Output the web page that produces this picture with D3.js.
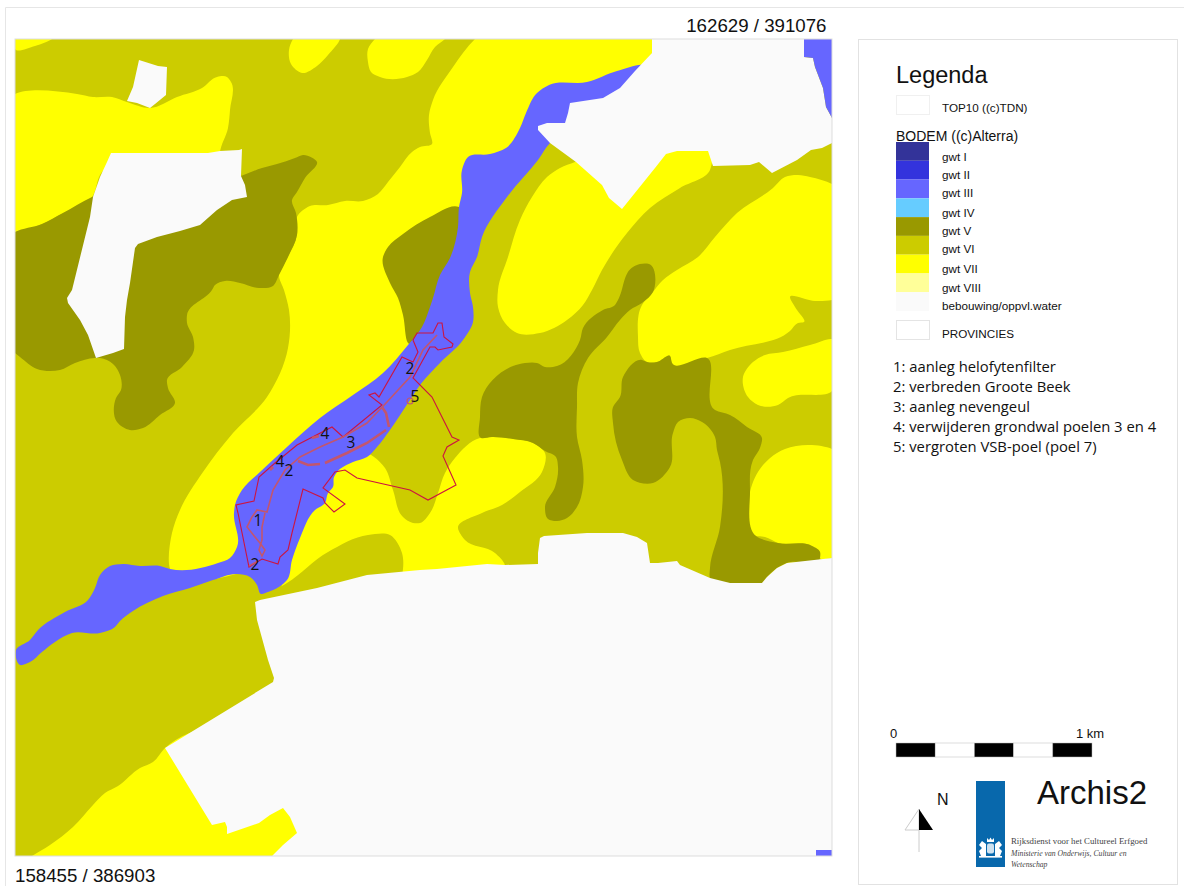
<!DOCTYPE html>
<html>
<head>
<meta charset="utf-8">
<script src="https://cdn.jsdelivr.net/npm/d3@7"></script>
<style>
body { margin: 0; background: #fff; }
svg { display: block; }
text { font-family: "Liberation Sans", Arial, sans-serif; fill: #111; }
</style>
</head>
<body>
<svg width="1184" height="886"></svg>
<script>
// map polygons, digitised in sheet units: origin at the SW corner, 817 units to a side
var sheetSize = 817;
var cornerNE = "162629 / 391076";
var cornerSW = "158455 / 386903";

var yellowAreas = [
  [[0,817],[37,817],[20,810],[0,807]],
  [[0,762],[62,762],[78,759],[97,759],[112,754],[135,748],[162,759],[187,768],[202,779],[212,779],[216,774],[215,746],[213,728],[205,703],[205,696],[85,681],[77,659],[48,643],[27,632],[0,624]],
  [[278,817],[274,806],[276,792],[287,783],[302,790],[313,801],[325,817]],
  [[360,817],[353,807],[353,794],[356,784],[365,779],[392,779],[403,784],[412,796],[420,809],[430,817]],
  [[460,817],[637,817],[637,803],[622,786],[545,746],[485,676],[455,606],[405,496],[305,406],[255,296],[155,287],[157,323],[165,346],[188,384],[218,423],[252,459],[273,508],[274,546],[269,566],[264,581],[273,599],[282,621],[282,639],[295,650],[313,651],[330,655],[348,655],[363,662],[373,674],[385,689],[397,704],[405,709],[417,712],[415,723],[414,741],[418,756],[438,789]],
  [[560,694],[545,688],[532,679],[517,659],[505,636],[493,599],[483,566],[483,549],[490,533],[502,523],[525,523],[552,536],[568,551],[577,566],[587,586],[612,623],[635,648],[665,668],[695,686],[697,706],[625,716]],
  [[817,672],[795,679],[783,681],[770,679],[758,668],[722,643],[700,619],[683,599],[662,586],[648,576],[637,563],[627,551],[623,519],[625,503],[632,494],[642,494],[655,500],[657,493],[692,498],[715,506],[775,525],[783,533],[789,534],[782,546],[775,559],[800,555],[817,556]],
  [[817,517],[795,511],[768,504],[750,501],[738,494],[728,479],[733,459],[743,451],[763,451],[773,458],[817,465]],
  [[817,407],[770,407],[762,403],[748,391],[735,364],[741,320],[750,319],[763,313],[797,310],[805,304],[805,298],[817,298]],
  [[150,108],[138,94],[125,88],[103,70],[90,63],[78,51],[58,29],[35,11],[17,0],[257,0],[320,40],[200,130]],
  [[305,366],[345,406],[370,388],[378,366],[388,339],[398,333],[405,333],[415,343],[423,363],[430,383],[440,398],[465,418],[477,419],[498,417],[518,413],[530,403],[527,384],[505,364],[487,351],[467,343],[443,328],[450,316],[480,303],[490,291],[490,276],[265,256],[270,286]]
];
var gwt6Areas = [
  [[240,256],[272,273],[313,304],[353,321],[375,321],[387,303],[387,281],[302,261]]
];
var gwt5Areas = [
  [[0,624],[27,632],[48,643],[77,659],[95,666],[226,680],[247,688],[262,692],[280,698],[288,701],[302,694],[290,678],[282,664],[277,656],[281,643],[282,621],[273,599],[264,581],[258,570],[244,568],[225,573],[210,575],[200,571],[197,566],[172,541],[172,533],[178,519],[179,506],[167,489],[152,476],[153,468],[160,453],[145,441],[128,428],[115,426],[102,434],[101,458],[106,466],[105,481],[98,492],[85,498],[80,498],[60,493],[45,486],[22,487],[5,499],[0,503]],
  [[444,649],[415,639],[388,622],[373,609],[368,599],[375,573],[383,558],[388,541],[393,513],[435,556],[450,646]],
  [[467,459],[498,490],[510,493],[522,493],[530,489],[542,490],[565,516],[568,528],[588,546],[600,551],[603,556],[618,589],[625,592],[634,592],[638,564],[627,553],[615,546],[605,536],[592,519],[573,498],[563,473],[562,449],[562,419],[567,396],[568,369],[562,349],[552,338],[542,335],[533,337],[530,349],[540,369],[543,389],[541,399],[530,405],[518,413],[498,417],[477,419],[466,418],[465,439]],
  [[627,496],[608,479],[605,459],[598,449],[598,433],[607,396],[618,376],[638,373],[655,389],[658,423],[663,434],[675,438],[687,434],[700,419],[702,406],[705,394],[705,329],[695,288],[695,278],[715,273],[747,273],[752,279],[762,288],[772,293],[805,298],[805,304],[797,310],[763,313],[741,320],[735,364],[738,396],[745,408],[747,418],[732,429],[715,441],[700,446],[692,498],[657,493],[655,500],[642,494],[632,494]]
];
var gwt3Areas = [
  [[630,790],[602,785],[572,774],[534,771],[522,763],[511,743],[505,728],[491,708],[475,702],[453,699],[447,686],[447,663],[444,649],[443,629],[435,598],[425,581],[418,558],[415,549],[407,529],[393,511],[368,483],[338,461],[305,438],[272,409],[245,384],[227,366],[220,351],[219,343],[222,309],[215,298],[203,293],[155,287],[145,290],[125,290],[108,292],[95,290],[85,281],[80,268],[73,256],[50,244],[23,226],[15,216],[1,206],[5,191],[15,194],[27,204],[40,214],[57,223],[85,223],[100,229],[105,235],[118,245],[148,260],[175,268],[198,276],[222,282],[235,279],[242,271],[246,262],[253,264],[268,272],[272,276],[277,296],[285,318],[300,346],[310,353],[313,363],[318,369],[319,379],[322,384],[338,394],[352,399],[362,409],[375,426],[393,453],[405,471],[425,493],[448,516],[458,534],[458,549],[455,563],[455,584],[462,599],[467,619],[492,659],[523,696],[535,713],[555,726],[625,766]]
];
var gwt3Corner = [[[789,817],[789,799],[798,798],[800,789],[808,768],[811,749],[817,738],[817,817]],[[801,6],[817,6],[817,0],[801,0]]];
var builtAreas = [
  [[124,796],[143,790],[152,789],[151,761],[140,752],[135,748],[122,753],[112,755],[118,769]],
  [[96,703],[193,703],[205,705],[224,706],[227,707],[226,680],[230,671],[232,659],[217,656],[202,646],[185,631],[165,625],[142,619],[123,612],[120,608],[115,573],[112,556],[110,539],[109,507],[98,503],[81,498],[73,521],[65,536],[53,553],[52,558],[57,566],[75,639],[78,659],[85,679],[92,694]],
  [[240,254],[245,256],[302,268],[352,281],[405,286],[422,287],[472,292],[490,291],[523,292],[523,303],[525,318],[529,320],[572,323],[608,323],[622,319],[632,313],[635,293],[643,293],[662,295],[665,291],[695,278],[715,273],[747,273],[752,279],[762,288],[772,293],[817,298],[817,0],[257,0],[268,11],[282,23],[275,39],[268,48],[255,41],[244,33],[212,22],[212,29],[210,34],[197,31],[150,108],[258,174],[259,178],[253,196],[242,236]],
  [[637,817],[789,817],[789,799],[798,798],[800,789],[808,768],[811,749],[817,738],[817,713],[807,708],[796,706],[782,696],[757,683],[744,694],[735,691],[698,690],[693,705],[662,705],[651,702],[640,688],[607,647],[594,658],[587,671],[561,694],[535,713],[523,726],[523,730],[532,733],[550,733],[553,743],[555,753],[588,758],[605,768],[620,785],[637,803]]
];

// red plan outline and the pink works lines inside it
var planOutline = [[423,533],[427,533],[429,519],[438,512],[437,509],[423,506],[420,509],[415,509],[398,478],[417,459],[437,419],[444,416],[432,409],[428,400],[441,371],[413,356],[395,366],[342,378],[330,386],[320,384],[308,368],[330,352],[319,344],[310,353],[308,358],[288,367],[277,323],[273,306],[265,299],[263,292],[247,297],[234,289],[223,343],[221,351],[239,355],[244,379],[260,393],[282,411],[317,429],[328,419],[367,451],[354,461],[360,463],[364,459],[387,499],[398,494],[403,504],[398,516],[402,523],[418,523]];
var worksThin = [
  [[422,521],[408,506],[395,479],[372,454],[352,433],[328,419],[305,409],[285,399],[270,386],[258,366],[252,344],[242,346],[237,339],[232,329],[240,319],[245,313],[250,306],[247,300],[244,306],[247,316],[247,329],[250,343]],
  [[234,290],[243,295]]
];
var worksThick = [
  [[367,449],[371,443],[374,429]],
  [[371,426],[352,413],[332,403],[310,393]],
  [[305,392],[293,391],[283,395]],
  [[297,418],[304,420]],
  [[255,386],[258,389]]
];
var pondCentre = [395,455];
var planLabels = ["1","2","5","3","4","4","2","2"];
var planLabelX = [243,395,400,336,310,265,274,240];
var planLabelY = [336,488,460,414,423,395,386,292];

// legend
var soilNames = ["gwt I","gwt II","gwt III","gwt IV","gwt V","gwt VI","gwt VII","gwt VIII","bebouwing/oppvl.water"];
var soilColors = ["#333399","#3333dd","#6666ff","#66ccff","#999900","#cccc00","#ffff00","#ffff99","#fafafa"];
var soilLabelY = [161,179,197,217,235,253,273,292,310];
var notes = ["1: aanleg helofytenfilter","2: verbreden Groote Beek","3: aanleg nevengeul","4: verwijderen grondwal poelen 3 en 4","5: vergroten VSB-poel (poel 7)"];
var barStops = [0,200,400,600,800];
var logoLines = ["Rijksdienst voor het Cultureel Erfgoed","Ministerie van Onderwijs, Cultuur en","Wetenschap"];

var svg = d3.select("svg");
var x = d3.scaleLinear().domain([0,sheetSize]).range([15,832]);
var y = d3.scaleLinear().domain([0,sheetSize]).range([856,39]);
var line = d3.line().x(function(d) { return x(d[0]); }).y(function(d) { return y(d[1]); });
var smooth = d3.line().x(function(d) { return x(d[0]); }).y(function(d) { return y(d[1]); })
  .curve(d3.curveCatmullRomClosed.alpha(1));

// page frames
svg.append("path").attr("d","M5.5,886V7.5H1184").attr("fill","none").attr("stroke","#e6e6e6");
svg.append("rect").attr("x",858.5).attr("y",39.5).attr("width",319).attr("height",845)
  .attr("fill","#fff").attr("stroke","#e2e2e2");

svg.append("clipPath").attr("id","sheet").append("rect")
  .attr("x",x(0)).attr("y",y(sheetSize)).attr("width",x(sheetSize)-x(0)).attr("height",y(0)-y(sheetSize));

// soil map, painted back to front
var map = svg.append("g").attr("clip-path","url(#sheet)");
map.append("rect").attr("x",x(0)).attr("y",y(sheetSize)).attr("width",x(sheetSize)-x(0)).attr("height",y(0)-y(sheetSize)).attr("fill",soilColors[5]);

function drawAreas(areas, color, shape) {
  map.append("g").selectAll("path").data(areas).enter().append("path")
    .attr("d", function(d) { return shape(d) + (shape==line ? "Z" : ""); })
    .attr("fill", color);
}
drawAreas(yellowAreas, soilColors[6], smooth);
drawAreas(gwt6Areas, soilColors[5], smooth);
drawAreas(gwt5Areas, soilColors[4], smooth);
drawAreas(gwt3Areas, soilColors[2], smooth);
drawAreas(builtAreas, soilColors[8], line);
drawAreas(gwt3Corner, soilColors[2], line);

// plan lines
map.append("path").attr("d",line(planOutline)+"Z").attr("fill","none").attr("stroke","#cc1440").attr("stroke-width",1.1);
map.append("g").selectAll("path").data(worksThin).enter().append("path")
  .attr("d",line).attr("fill","none").attr("stroke","#c2566e").attr("stroke-width",1.6);
map.append("g").selectAll("path").data(worksThick).enter().append("path")
  .attr("d",line).attr("fill","none").attr("stroke","#c2566e").attr("stroke-width",2.6);
map.append("circle").attr("cx",x(pondCentre[0])).attr("cy",y(pondCentre[1])).attr("r",3)
  .attr("fill","none").attr("stroke","#c2566e").attr("stroke-width",1.2);

map.append("g").selectAll("text").data(planLabels).enter().append("text")
  .attr("x",function(d,i) { return x(planLabelX[i]); })
  .attr("y",function(d,i) { return y(planLabelY[i]); })
  .attr("text-anchor","middle").attr("dy","0.36em")
  .style("font-family","'Open Sans'").style("font-size","15.5px")
  .text(function(d) { return d; });

svg.append("rect").attr("x",x(0)).attr("y",y(sheetSize)).attr("width",x(sheetSize)-x(0)).attr("height",y(0)-y(sheetSize))
  .attr("fill","none").attr("stroke","#dddddd").attr("stroke-width",1);

// corner coordinates
svg.append("text").attr("x",826.5).attr("y",32).attr("text-anchor","end").style("font-size","18.7px").text(cornerNE);
svg.append("text").attr("x",15).attr("y",882).style("font-size","18.7px").text(cornerSW);

// legend
svg.append("text").attr("x",896).attr("y",83).style("font-size","23.5px").text("Legenda");
svg.append("rect").attr("x",896.5).attr("y",95.5).attr("width",33).attr("height",19).attr("fill","#fff").attr("stroke","#f0f0f0");
svg.append("text").attr("x",942).attr("y",112).style("font-size","11.7px").text("TOP10 ((c)TDN)");
svg.append("text").attr("x",896).attr("y",141).style("font-size","14px").text("BODEM ((c)Alterra)");

var swatchY = d3.scaleBand().domain(soilNames).range([142,311]);
svg.append("g").selectAll("rect").data(soilNames).enter().append("rect")
  .attr("x",896).attr("y",function(d) { return swatchY(d); })
  .attr("width",33).attr("height",swatchY.bandwidth())
  .attr("fill",function(d,i) { return soilColors[i]; });
svg.append("g").selectAll("text").data(soilNames).enter().append("text")
  .attr("x",942).attr("y",function(d,i) { return soilLabelY[i]; })
  .style("font-size","11.7px").text(function(d) { return d; });

svg.append("rect").attr("x",896.5).attr("y",320.5).attr("width",33).attr("height",19).attr("fill","#fff").attr("stroke","#e4e4e4");
svg.append("text").attr("x",942).attr("y",338).style("font-size","11.7px").text("PROVINCIES");

svg.append("g").selectAll("text").data(notes).enter().append("text")
  .attr("x",893).attr("y",function(d,i) { return 372 + i*20; })
  .style("font-family","'Open Sans'").style("font-size","14.8px")
  .text(function(d) { return d; });

// scale bar
var bar = d3.scaleLinear().domain([0,1000]).range([896,1092]);
svg.append("g").selectAll("rect").data(barStops).enter().append("rect")
  .attr("x",function(d) { return bar(d); }).attr("y",743)
  .attr("width",bar(200)-bar(0)).attr("height",14)
  .attr("fill",function(d,i) { return i%2==0 ? "#000" : "#fff"; })
  .attr("stroke","#bbb").attr("stroke-width",0.5);
svg.append("text").attr("x",bar(0)-6).attr("y",738).style("font-size","13px").text("0");
svg.append("text").attr("x",1076).attr("y",738).style("font-size","13px").text("1 km");

// north arrow
svg.append("path").attr("d","M919,809L905,830H919M919,809V852").attr("fill","none").attr("stroke","#ccc");
svg.append("path").attr("d","M919,809L933,830H919Z").attr("fill","#000");
svg.append("text").attr("x",937).attr("y",805).style("font-size","16px").text("N");

// logo
svg.append("rect").attr("x",976).attr("y",781).attr("width",29).attr("height",86).attr("fill","#0868ac");
var crest = svg.append("g").attr("fill","#fff");
crest.append("path").attr("d","M987,842V838L989,840L990.5,837.5L992,840L994,838V842Z");
crest.append("rect").attr("x",987).attr("y",843.5).attr("width",7).attr("height",10).attr("rx",2).attr("fill","#cfe2f0");
crest.append("path").attr("d","M986,844L982,841L979,845L982,848L979,851L981,856H986Z");
crest.append("path").attr("d","M995,844L999,841L1002,845L999,848L1002,851L1000,856H995Z");
crest.append("rect").attr("x",979).attr("y",856).attr("width",23).attr("height",1.6);
svg.append("text").attr("x",1037).attr("y",804).style("font-size","33px").text("Archis2");
svg.append("g").selectAll("text").data(logoLines).enter().append("text")
  .attr("x",1011).attr("y",function(d,i) { return 844 + i*11.5; })
  .style("font-family","'Liberation Serif'").style("font-size",function(d,i) { return i==0 ? "8.8px" : "7.7px"; })
  .style("font-style",function(d,i) { return i==0 ? "normal" : "italic"; })
  .style("fill","#444")
  .text(function(d) { return d; });
</script>
</body>
</html>
